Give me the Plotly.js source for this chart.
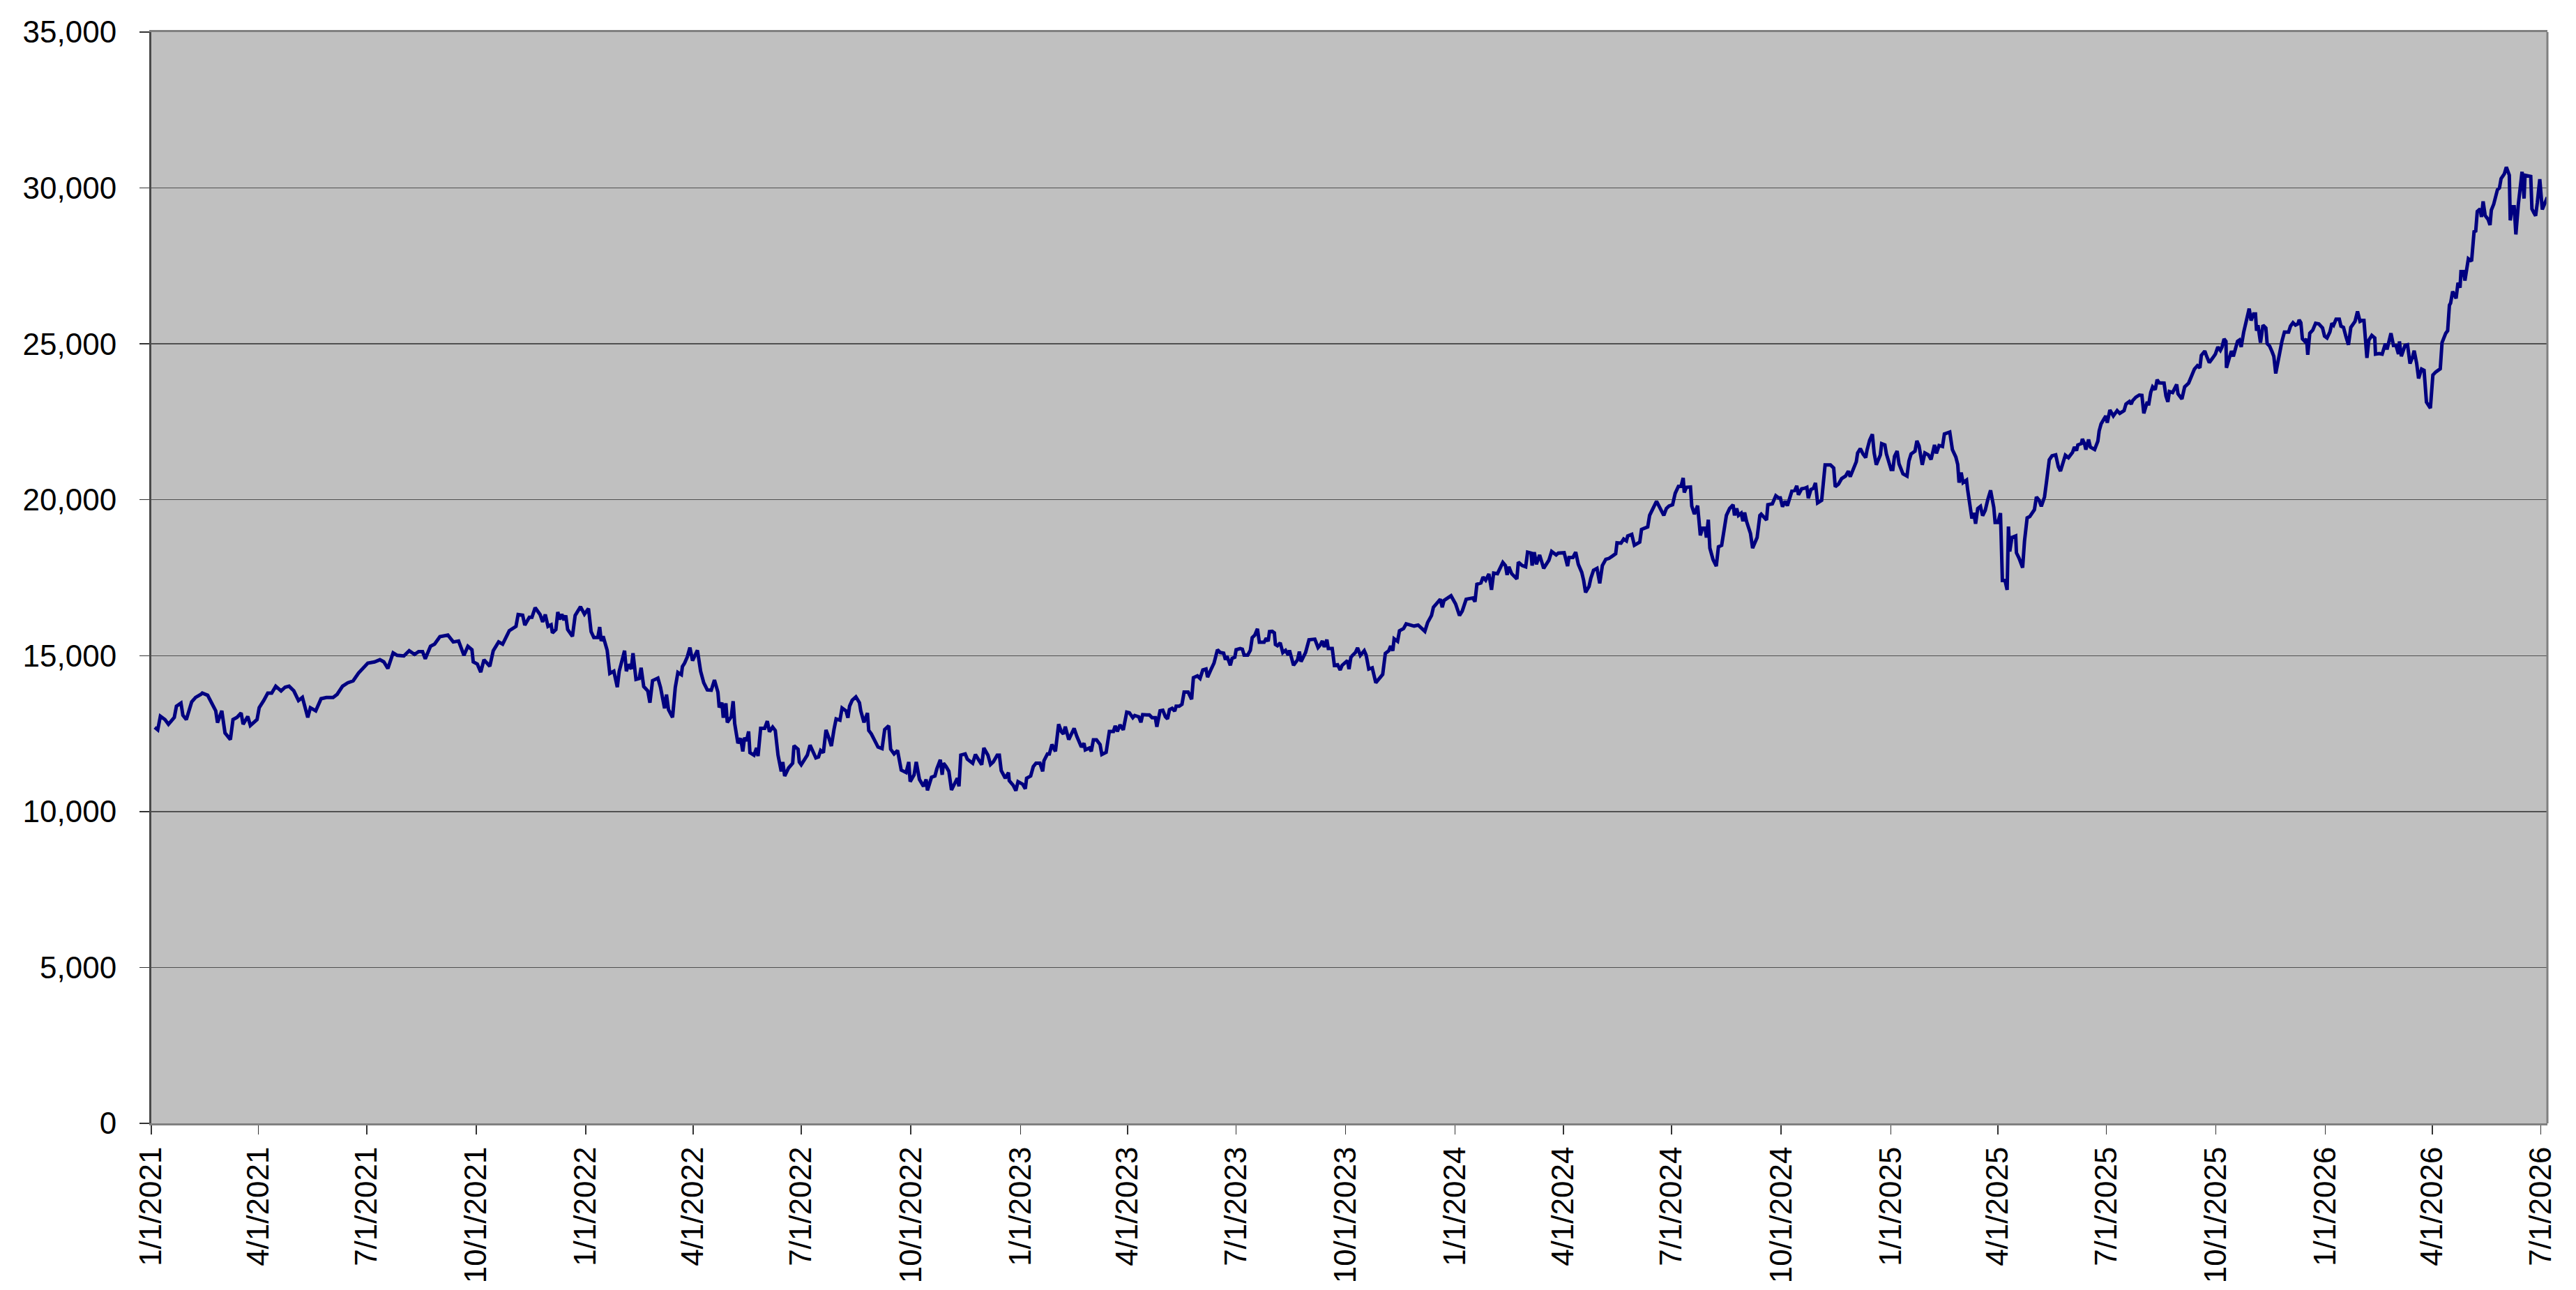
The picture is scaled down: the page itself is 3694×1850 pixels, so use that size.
<!DOCTYPE html>
<html>
<head>
<meta charset="utf-8">
<script src="https://cdn.plot.ly/plotly-3.0.1.min.js"></script>
<style>
  html, body { margin: 0; padding: 0; background: #ffffff; }
  #plot { width: 3694px; height: 1850px; }
</style>
</head>
<body>
<div id="plot"></div>
<script>
// series: days counted from 1/1/2021, closing values
const startDate = Date.UTC(2021, 0, 1);

const daysA = [2.9,5.4,7.6,11.5,14.4,19.3,21.1,24.9,26.5,29.4,33.9,37.2,41.7,42.8,47.3,50.7,54.1,55.6,59.2,61.9,
  66.4,68.6,72.0,75.4,77.1,81.0,83.2,88.8,90.6,94.4,97.8,101.1,104.5,109.0,112.4,115.7,119.7,123.6,126.9,131.4,
  133.6,138.1,142.6,147.1,152.7,156.1,160.6,165.0,169.5,174.0,178.5,181.8,187.5,192.0,195.3,198.7,203.1,206.5,212.1,216.6,
  221.1,224.5,227.8,230.1,234.5,237.9,242.4,249.1,253.6,258.1,262.6,265.9,269.3,270.4,273.8,276.7,279.4,284.3,287.2,291.7,
  295.1,300.7,306.3,308.1,311.9,313.7,317.5,319.7,322.4,326.5,328.7,330.9,333.2];
const valuesA = [12700,12620,13060,12950,12800,13020,13380,13480,13090,12950,13520,13660,13760,13800,13730,13480,13230,12850,13230,12520,
  12310,12950,13020,13160,12800,13050,12760,12950,13330,13560,13800,13800,14020,13870,13990,14020,13870,13560,13660,13020,
  13330,13230,13620,13660,13660,13760,14020,14130,14190,14440,14620,14760,14800,14870,14800,14590,15090,15010,14990,15160,
  15040,15130,15130,14900,15300,15370,15610,15660,15440,15470,15010,15300,15190,14800,14730,14470,14870,14660,15160,15440,
  15370,15800,15940,16320,16300,15980,16230,16230,16540,16320,16080,16320,15940];

const daysB = [335.8,336.9,339.8,341.4,343.0,344.8,346.6,348.1,349.7,353.7,
  356.0,360.5,363.8,367.2,369.4,371.7,375.0,376.6,377.9,379.5,
  382.9,385.1,388.5,391.4,393.0,397.5,399.0,400.8,403.1,404.6,
  407.1,409.8,411.4,413.6,417.0,418.8,421.0,425.5,427.7,431.1,
  432.7,434.4,437.8,440.1,442.3,445.2,446.1,447.9,450.1,452.4,
  454.6,458.7,461.4,464.0,467.0,470.3,473.0,475.9,477.0,479.3,
  480.4,482.6,483.8,487.1,488.7,490.0,492.7,495.0,496.8,498.3,
  499.9,501.7,502.8,506.2,508.4,509.6,511.8,515.2,517.4,519.2,
  521.9,524.1,526.4,529.1,530.4,532.0,535.3,538.7,539.8,543.2,
  544.3,545.9,548.8,551.0,553.3,556.0,558.2,560.4,562.2,564.5,
  566.7,569.0,571.2,573.4,575.2,578.4,580.2,583.5,585.1,586.5,
  588.7,591.8,594.8,595.9,598.6,601.5,602.6,604.8,608.2,610.4,
  613.8,616.0,619.4,621.0,623.9,626.8,629.9,634.0,636.2,637.4,
  640.7,642.5,645.2,648.6,650.8,651.9,655.3,658.2,659.8,662.7,
  664.3,665.4,667.6,669.9,672.1,674.3,677.0,678.4,679.9];
const valuesB = [15990,15730,15840,16400,16160,16330,16140,16290,15840,15620,
  16290,16570,16330,16510,15770,15580,15580,15920,15470,15620,
  15170,14430,14500,13990,14500,15160,14500,14720,14570,15080,
  14240,14270,14610,14010,13870,13490,14200,14280,13980,13310,
  13750,13270,13020,13980,14460,14390,14650,14760,14950,15260,
  14840,15170,14500,14130,13900,13890,14220,13830,13340,13490,
  13010,13470,12860,13040,13540,12820,12190,12350,11930,12370,
  12260,12570,11890,11810,12040,11780,12670,12670,12900,12560,
  12710,12600,11810,11290,11590,11140,11400,11550,12110,12000,
  11590,11500,11700,11810,12130,11930,11720,11750,11960,11890,
  12620,12370,12100,12630,12970,12930,13320,13230,13010,13380,
  13570,13680,13490,13230,12860,13160,12600,12490,12260,12070,
  12020,12630,12750,12000,11850,11960,11330,11250,11590,10960,
  11180,11590,11030,10810,11030,10680,11100,11140,11370,11660,
  11180,11550,11440,11290,10690,10880,11070,10810,11810];

const daysC = [683.6,685.4,689.9,692.2,694.9,697.5,699.3,702.7,704.9,707.2,
  710.5,712.3,713.9,717.3,720.0,720.6,724.0,726.2,728.0,731.8,
  734.1,735.2,738.6,740.8,743.1,746.4,748.7,749.8,752.7,754.3,
  756.5,759.4,762.1,764.4,766.1,767.7,770.6,775.1,777.4,781.2,
  783.4,784.5,787.9,789.5,791.3,793.9,796.9,798.4,802.0,803.6,
  804.7,808.1,809.6,811.4,813.7,816.4,819.3,821.5,824.4,826.0,
  829.4,831.2,832.7,836.1,838.3,840.6,843.3,844.6,847.3,849.6,
  851.8,853.6,855.2,857.4,859.6,860.8,863.4,865.7,867.5,870.9,
  873.8,875.3,878.7,880.9,883.2,885.9,887.2,889.9,892.6,895.5,
  897.8,900.7,902.2,903.4,906.3,907.8,910.1,911.2,914.6,916.4,
  917.9,920.9,923.1,924.7,926.9,929.1,930.7,934.7,936.5,938.1,
  939.2,941.5,943.3,944.2,945.9,948.2,950.4,952.7,954.9,956.0,
  959.4,962.8,964.3,965.7,967.9,969.5,972.4,977.3,980.0,981.8,
  983.6,985.2,987.4,988.6,991.9,993.7,996.4,998.6,1000.2,1002.5,
  1004.7,1006.0,1007.6,1009.2,1011.4,1013.2,1015.5,1018.8,1020.4,1022.6,
  1025.5,1028.5,1033.0];
const valuesC = [11850,11680,11550,11830,11660,11500,12040,11810,11510,11590,
  11810,11810,11310,11070,11250,10990,10840,10670,10960,10880,
  10730,11070,11140,11440,11550,11550,11290,11630,11850,11850,
  12150,11930,12800,12560,12490,12720,12310,12670,12410,12070,
  12190,11980,12040,11930,12300,12300,12150,11830,11900,12300,
  12570,12570,12750,12570,12780,12620,13190,13170,13010,13080,
  13040,12860,13110,13100,13100,13010,13010,12720,13230,13250,
  13040,12970,13270,13310,13220,13380,13380,13440,13830,13830,
  13600,14290,14350,14270,14540,14570,14310,14540,14760,15190,
  15100,15080,14870,14990,14690,14910,14950,15190,15230,15210,
  15020,15020,15170,15580,15660,15860,15430,15430,15560,15460,
  15770,15780,15730,15360,15320,15410,15100,15170,15020,15170,
  14690,14870,15130,14810,15020,15100,15510,15530,15260,15340,
  15470,15280,15510,15230,15230,14690,14710,14540,14690,14760,
  14840,14570,14950,15020,15100,15250,15010,15160,15020,14570,
  14610,14130,14350];

const daysD = [1034.3,1036.5,1039.4,1041.0,1042.8,1043.9,1046.8,1048.4,1051.8,1054.0,
  1057.4,1060.7,1064.1,1067.5,1069.7,1072.0,1075.3,1076.9,1080.9,1082.7,
  1084.3,1085.8,1091.7,1095.5,1098.8,1101.1,1104.4,1110.1,1111.8,1113.4,
  1116.8,1118.6,1120.8,1123.5,1125.7,1127.5,1130.7,1132.9,1135.2,1137.4,
  1138.8,1140.3,1142.6,1147.0,1148.2,1151.5,1154.4,1156.0,1158.9,1159.8,
  1161.6,1163.4,1166.1,1169.5,1173.9,1176.2,1180.0,1181.8,1186.7,1189.6,
  1190.8,1194.1,1196.4,1198.6,1201.5,1203.1,1204.7,1207.6,1209.1,1211.4,
  1214.3,1216.6,1218.8,1221.7,1224.4,1227.1,1230.0,1231.1,1234.5,1236.7,
  1239.0,1240.1,1243.5,1245.7,1250.2,1251.7,1256.9,1258.5,1261.4,1264.3,
  1267.4,1270.4,1272.6,1274.8,1277.8,1280.0,1282.7,1284.9,1286.7,1287.6,
  1289.4,1292.8,1293.9,1296.1,1298.8,1301.1,1302.9,1305.1,1306.2,1307.8,
  1309.1,1311.8,1314.5,1316.3,1319.0,1320.8,1323.0,1325.7,1328.6,1329.8,
  1331.6,1333.1,1335.4,1336.9,1338.3,1339.9,1343.2,1345.0,1348.8,1351.1,
  1352.2,1356.7,1357.8,1361.6,1364.5,1366.8,1368.3,1370.1,1372.4,1374.2,
  1376.4,1378.0];
const valuesD = [14400,15070,15160,15310,15160,15540,15460,15800,15870,16020,
  15970,15950,15980,15840,15780,16060,16290,16550,16730,16810,
  16550,16770,16920,16660,16290,16430,16810,16850,16730,17290,
  17330,17520,17420,17620,17110,17650,17630,17800,17990,17890,
  17590,17850,17630,17460,18000,17890,17850,18320,18290,17890,
  18320,17930,18230,17800,18060,18340,18230,18290,18300,17870,
  18150,18150,18320,17930,17670,17410,17030,17220,17480,17740,
  17800,17320,17890,18090,18120,18190,18270,18620,18610,18740,
  18680,18840,18890,18540,18640,19050,19130,19500,19740,19950,
  19720,19500,19720,19800,19840,20210,20430,20430,20700,20230,
  20400,20410,19800,19540,19810,18860,19090,19090,18790,19360,
  18450,18080,17870,18490,18540,19010,19500,19720,19840,19500,
  19720,19500,19570,19310,19590,19310,18920,18450,18790,19500,
  19540,19350,19840,19870,20130,20060,20060,19780,19950,19810,
  20060,20280];

const daysE = [1380.5,1382.1,1383.5,1386.2,1388.8,1390.6,1391.8,1394.0,1396.2,1397.8,
  1399.6,1403.0,1405.9,1410.4,1413.1,1414.4,1417.1,1419.8,1423.1,1425.4,
  1427.0,1429.9,1432.1,1433.2,1435.5,1437.7,1440.0,1441.1,1443.3,1445.6,
  1447.1,1448.9,1452.3,1453.4,1456.1,1457.4,1459.7,1461.3,1462.8,1464.2,
  1466.4,1468.0,1471.3,1474.7,1476.3,1478.1,1481.4,1483.0,1484.8,1487.5,
  1489.7,1492.6,1494.9,1497.8,1499.4,1501.6,1504.5,1506.1,1510.6,1512.8,
  1515.7,1517.3,1518.4,1520.2,1521.8,1524.7,1525.6,1527.0,1529.2,1530.8,
  1532.3,1534.1,1536.4,1538.2,1540.4,1542.6,1544.9,1547.6,1548.7,1550.9,
  1553.2,1554.8,1557.0,1558.8,1559.9,1561.0,1562.8,1566.0,1566.6,1568.9,
  1571.8,1573.4,1575.6,1577.8,1580.1,1581.7,1583.4,1585.7,1587.5,1590.2,
  1592.0,1594.2,1596.5,1599.6,1601.8,1603.6,1607.7,1610.3,1613.7,1615.3,
  1617.1,1618.2,1621.1,1622.0,1623.8,1624.9,1627.2,1628.7,1632.3,1635.0,
  1636.1,1637.7,1640.0,1641.7,1642.9,1645.1,1648.0,1651.2,1653.4,1657.0,
  1658.6,1661.5,1663.0,1664.2,1666.9,1669.8,1672.0,1673.6,1676.5,1677.6,
  1679.4,1681.0,1683.2,1684.8,1686.6,1690.6,1692.2,1693.8,1695.1,1697.8,
  1701.2,1702.3,1705.6,1707.9,1711.2];
const valuesE = [20300,20450,20160,20350,20370,20400,20050,20330,20370,20540,
  19900,19980,21120,21120,21020,20420,20500,20680,20760,20920,
  20740,21060,21220,21500,21640,21470,21350,21590,21910,22100,
  21500,21120,21440,21800,21760,21470,21210,20970,20970,21390,
  21560,21150,20830,20760,21240,21470,21560,21890,21730,21120,
  21500,21440,21290,21760,21490,21740,21710,22110,22170,21610,
  21370,21130,20550,20870,20550,20630,20330,20010,19400,19580,
  19230,19720,19790,19490,19660,20010,20300,19750,19270,19270,
  19570,17410,17410,17110,19140,18340,18790,18840,18300,18120,
  17820,18680,19420,19460,19580,19680,20090,19980,19790,20090,
  20610,21280,21410,21440,21060,20920,21430,21350,21520,21690,
  21580,21760,21800,21950,21800,21610,21930,21690,21610,21880,
  22210,22430,22580,22690,22470,22880,22690,22860,22770,22860,
  23070,23150,23070,23180,23290,23360,23350,22770,23140,23030,
  23440,23620,23530,23850,23750,23740,23330,23140,23470,23440,
  23700,23400,23230,23620,23740];

const daysF = [1714.1,1716.1,1718.6,1720.7,1721.9,1724.8,1726.1,1728.6,1731.7,1733.7,
  1735.8,1737.9,1739.3,1741.0,1742.6,1743.0,1745.5,1747.2,1748.8,1750.3,
  1752.3,1753.8,1755.4,1757.5,1760.0,1762.1,1763.7,1765.8,1767.4,1768.3,
  1769.5,1771.6,1773.7,1776.1,1777.2,1779.2,1781.3,1782.8,1784.4,1786.5,
  1789.6,1791.7,1795.2,1796.8,1798.9,1801.0,1803.0,1804.1,1805.5,1806.8,
  1808.8,1810.3,1811.3,1813.0,1815.5,1817.9,1820.6,1823.7,1825.4,1827.5,
  1829.9,1831.6,1833.0,1835.1,1837.8,1839.2,1841.3,1843.4,1845.5,1847.5,
  1851.0,1853.1,1855.2,1856.8,1858.5,1861.0,1862.6,1865.1,1867.6,1868.2,
  1871.3,1873.8,1876.5,1877.9,1881.2,1883.3,1885.4,1887.5,1888.3,1889.9,
  1893.0,1895.1,1897.2,1899.2,1900.7,1902.8,1904.4,1906.9,1909.0,1911.0,
  1914.3,1916.4,1918.9,1922.6,1924.1,1927.2,1928.8,1930.3,1931.3,1933.0,
  1935.9,1937.5,1939.2,1940.0,1942.1,1943.3,1946.2,1948.9,1951.0,1952.4,
  1953.7,1956.1,1957.2,1958.6,1960.3,1962.8,1964.4,1965.5,1967.5,1970.6,
  1972.3,1973.7,1976.4,1978.1,1980.6,1981.4,1983.0,1984.7,1986.1,1988.2,
  1991.3,1993.0,1993.8,1998.6,1999.6,2001.3,2002.7,2004.1,2006.2,2008.3,
  2011.0,2012.5];
const valuesF = [24040,24190,24300,24230,24630,24770,24630,24400,24560,24670,
  24900,24790,24900,25160,25080,24230,24560,24770,24600,24860,
  25080,25120,24900,25380,25790,26130,25750,25960,25960,25420,
  25600,25040,25600,25510,25010,24930,24750,24600,24050,24490,
  25080,25380,25380,25570,25680,25600,25640,25770,25680,25160,
  25080,25160,24650,25340,25440,25660,25640,25510,25250,25190,
  25380,25660,25600,25790,25790,25570,25530,25230,24970,25530,
  25720,26040,25720,25750,25750,24550,25120,25270,25190,24670,
  24690,24670,25010,24820,25340,24950,24950,24670,25080,24600,
  24950,24970,24370,24560,24780,24370,23890,24190,24150,23130,
  22940,24000,24100,24200,25040,25340,25420,26240,26310,26680,
  26460,26960,26800,27320,27320,27030,27730,27650,28600,28620,
  29250,29330,29070,29570,29120,28990,28810,29290,29480,29940,
  30000,30300,30450,30670,30410,28960,29400,29400,28510,29480,
  30520,29660,30410,30370,29330,29200,29110,29520,30280,29310,
  29520,29700];

const xEndDay = 2012.6;

function dayToDate(d) {
  const iso = new Date(startDate + d * 86400000).toISOString();
  return iso.slice(0, 16).replace('T', ' ');
}

const allDays = [].concat(daysA, daysB, daysC, daysD, daysE, daysF);
const allValues = [].concat(valuesA, valuesB, valuesC, valuesD, valuesE, valuesF);
const n = Math.min(allDays.length, allValues.length);
if (allDays.length !== allValues.length) console.warn('length mismatch', allDays.length, allValues.length);

const trace = {
  x: allDays.slice(0, n).map(dayToDate),
  y: allValues.slice(0, n),
  type: 'scatter',
  mode: 'lines',
  line: { color: '#000080', width: 5 },
  hoverinfo: 'x+y'
};

const tickFont = { family: 'Liberation Sans, Arial, sans-serif', size: 44, color: '#000000' };

const layout = {
  width: 3694,
  height: 1850,
  margin: { l: 217, r: 41, t: 46, b: 239 },
  paper_bgcolor: '#ffffff',
  plot_bgcolor: '#c0c0c0',
  showlegend: false,
  xaxis: {
    type: 'date',
    range: [dayToDate(0), dayToDate(xEndDay)],
    tick0: '2021-01-01',
    dtick: 'M3',
    tickformat: '%-m/%-d/%Y',
    tickangle: -90,
    tickfont: tickFont,
    ticks: 'outside',
    ticklen: 13,
    tickwidth: 1.5,
    tickcolor: '#333333',
    showgrid: false,
    zeroline: false,
    showline: true,
    mirror: true,
    linecolor: '#808080',
    linewidth: 3
  },
  yaxis: {
    range: [0, 35000],
    tick0: 0,
    dtick: 5000,
    tickformat: ',d',
    tickfont: tickFont,
    ticks: 'outside',
    ticklen: 14,
    tickwidth: 1.5,
    tickcolor: '#333333',
    ticklabelstandoff: 24,
    showgrid: true,
    gridcolor: '#505050',
    gridwidth: 1.5,
    zeroline: false,
    showline: true,
    linecolor: '#4a4a4a',
    linewidth: 3
  },
  shapes: [{
    type: 'line', xref: 'paper', yref: 'paper',
    x0: 1, x1: 1, y0: 0, y1: 1,
    line: { color: '#808080', width: 3 }
  }]
};

Plotly.newPlot('plot', [trace], layout, { staticPlot: true });
</script>
</body>
</html>
